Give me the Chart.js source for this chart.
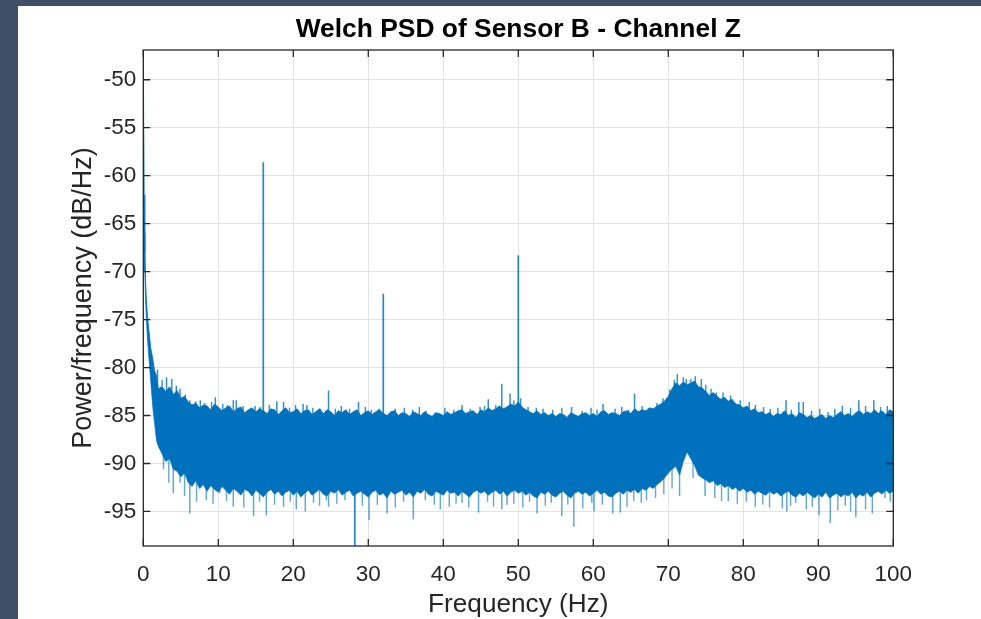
<!DOCTYPE html>
<html>
<head>
<meta charset="utf-8">
<script src="https://cdn.jsdelivr.net/npm/chart.js@4/dist/chart.umd.min.js"></script>
<style>
  html, body { margin: 0; padding: 0; width: 981px; height: 619px; overflow: hidden; background: #3f4f67; }
  #card { position: absolute; left: 18px; top: 6px; width: 963px; height: 613px; background: #ffffff; }
  #c { position: absolute; left: 0; top: 0; }
</style>
</head>
<body>
<div id="card"></div>
<canvas id="c" width="981" height="619"></canvas>
<script>
// ---- Data ----
const titleText = 'Welch PSD of Sensor B - Channel Z';
const xLabel = 'Frequency (Hz)';
const yLabel = 'Power/frequency (dB/Hz)';

const xTicks = [0, 10, 20, 30, 40, 50, 60, 70, 80, 90, 100];
const yTicks = [-95, -90, -85, -80, -75, -70, -65, -60, -55, -50];

// frequency bins (Hz) for the ragged edges of the noise band
const freqs = [0, 0.1, 0.2, 0.3, 0.45, 0.6, 0.8, 1, 1.25, 1.5, 1.75,
  2, 2.5, 3, 3.5, 4, 4.5, 5, 5.5, 6, 6.5, 7, 7.5, 8, 8.5, 9, 9.5,
  10, 10.5, 11, 11.5, 12, 12.5, 13, 13.5, 14, 14.5, 15, 15.5, 16, 16.5, 17, 17.5, 18, 18.5, 19, 19.5,
  20, 20.5, 21, 21.5, 22, 22.5, 23, 23.5, 24, 24.5, 25, 25.5, 26, 26.5, 27, 27.5, 28, 28.5, 29, 29.5,
  30, 30.5, 31, 31.5, 32, 32.5, 33, 33.5, 34, 34.5, 35, 35.5, 36, 36.5, 37, 37.5, 38, 38.5, 39, 39.5,
  40, 40.5, 41, 41.5, 42, 42.5, 43, 43.5, 44, 44.5, 45, 45.5, 46, 46.5, 47, 47.5, 48, 48.5, 49, 49.5,
  50, 50.5, 51, 51.5, 52, 52.5, 53, 53.5, 54, 54.5, 55, 55.5, 56, 56.5, 57, 57.5, 58, 58.5, 59, 59.5,
  60, 60.5, 61, 61.5, 62, 62.5, 63, 63.5, 64, 64.5, 65, 65.5, 66, 66.5, 67, 67.5, 68, 68.5, 69, 69.5,
  70, 70.5, 71, 71.5, 72, 72.5, 73, 73.5, 74, 74.5, 75, 75.5, 76, 76.5, 77, 77.5, 78, 78.5, 79, 79.5,
  80, 80.5, 81, 81.5, 82, 82.5, 83, 83.5, 84, 84.5, 85, 85.5, 86, 86.5, 87, 87.5, 88, 88.5, 89, 89.5,
  90, 90.5, 91, 91.5, 92, 92.5, 93, 93.5, 94, 94.5, 95, 95.5, 96, 96.5, 97, 97.5, 98, 98.5, 99, 99.5, 100];

// top edge of the noise band (dB/Hz)
const bandMax = [-46.9, -62, -68, -71, -73.5, -75, -76.5, -78, -79, -80.3, -80.8,
  -82.2, -82.0, -82.5, -82.0, -82.8, -82.4, -83.2, -83.0, -83.6, -83.9, -83.7, -84.2, -83.9, -84.0, -84.4, -83.8,
  -84.1, -84.5, -84.2, -84.0, -84.6, -84.3, -84.1, -84.7, -84.4, -84.2, -84.6, -84.3, -84.5, -84.8, -84.3, -84.4, -84.9, -84.5, -84.2, -84.7,
  -84.6, -84.3, -84.8, -84.5, -84.4, -84.9, -84.6, -84.3, -84.8, -84.4, -84.6, -85.0, -84.5, -84.7, -84.4, -84.9, -84.6, -84.4, -85.0, -84.7,
  -84.5, -84.9, -84.6, -84.4, -84.8, -85.0, -84.6, -84.5, -85.0, -84.7, -84.8, -85.1, -84.6, -84.8, -85.0, -84.6, -84.9, -85.1, -84.7, -84.8,
  -85.0, -84.6, -84.9, -84.7, -84.5, -84.4, -84.8, -84.6, -84.5, -84.9, -84.4, -84.6, -84.2, -84.5, -84.3, -84.0, -84.3, -84.1, -83.8, -84.0,
  -83.6, -84.1, -84.4, -84.6, -84.8, -84.5, -84.9, -84.7, -85.0, -84.8, -85.1, -84.8, -84.9, -85.2, -84.7, -84.9, -85.1, -84.8, -84.7, -85.0,
  -84.8, -85.1, -84.6, -84.5, -84.9, -84.7, -84.8, -85.0, -84.6, -84.5, -84.8, -84.3, -84.6, -84.4, -84.5, -84.2, -84.3, -84.0, -83.8, -83.5,
  -83.0, -82.2, -81.6, -81.9, -81.5, -81.8, -81.6, -81.4, -82.0, -82.1, -82.5, -82.9, -82.6, -83.0, -83.3, -83.1, -83.5, -83.3, -83.8, -83.9,
  -84.2, -84.0, -84.5, -84.3, -84.7, -84.6, -84.9, -84.7, -85.1, -84.8, -84.9, -84.5, -85.0, -84.8, -85.2, -84.7, -84.9, -85.2, -85.0, -85.3,
  -85.1, -84.9, -85.3, -85.0, -85.2, -84.9, -84.6, -85.0, -84.8, -85.1, -84.7, -84.5, -84.9, -84.6, -84.8, -84.4, -84.8, -84.5, -84.9, -84.4, -84.6];

// bottom edge of the noise band (dB/Hz)
const bandMin = [-50, -66, -70, -73, -75.5, -77.5, -79.5, -81.5, -84, -85.8, -87.5,
  -88.2, -89.0, -89.8, -89.5, -90.6, -90.8, -91.4, -91.0, -92.0, -92.4, -91.8, -92.6, -92.2, -92.9, -92.3, -92.7,
  -93.0, -92.4, -92.8, -93.2, -92.6, -92.9, -93.3, -92.7, -92.9, -93.4, -92.8, -93.1, -93.5, -93.0, -92.7, -93.2, -92.9, -93.4, -93.0, -92.8,
  -93.3, -92.9, -93.5, -93.1, -92.8, -93.3, -93.0, -92.7, -93.2, -93.4, -92.9, -93.1, -92.7, -93.3, -93.0, -92.8, -93.4, -93.1, -92.9, -93.2,
  -93.5, -93.0, -92.8, -93.3, -93.1, -93.6, -92.9, -93.2, -93.0, -92.8, -93.3, -93.0, -93.5, -92.9, -93.1, -92.7, -93.2, -93.4, -92.9, -93.1,
  -93.3, -92.8, -93.1, -93.0, -93.4, -92.9, -93.2, -93.5, -93.0, -92.8, -93.1, -92.9, -93.3, -93.0, -92.8, -93.2, -92.9, -93.4, -93.0, -92.8,
  -93.1, -92.9, -93.3, -93.0, -93.4, -93.6, -93.0, -93.2, -92.9, -93.3, -93.5, -93.1, -92.9, -93.3, -93.6, -93.1, -92.9, -93.2, -93.0, -93.4,
  -93.1, -92.8, -93.2, -93.0, -93.4, -93.5, -93.1, -92.9, -93.2, -92.8, -93.0, -92.7, -93.1, -92.6, -92.8, -92.4, -92.6, -92.2, -91.9, -91.5,
  -91.0, -90.6, -90.3, -91.2, -89.8, -88.8, -89.5, -90.2, -91.2, -91.5, -91.7, -92.0, -91.8, -92.3, -92.1, -92.5, -92.3, -92.7, -92.5, -92.9,
  -92.6, -93.0, -92.8, -93.2, -92.9, -93.1, -93.3, -92.9, -93.2, -93.0, -93.4, -93.1, -92.9, -93.3, -93.5, -93.1, -93.4, -93.0, -93.3, -93.6,
  -93.2, -93.5, -93.0, -93.6, -93.3, -93.1, -93.5, -93.2, -93.4, -93.0, -93.6, -93.2, -93.4, -93.0, -93.5, -93.1, -92.9, -93.2, -92.8, -93.1, -92.9];

// prominent noise spikes above the band: frequency (Hz) and tip (dB/Hz)
const spikeUpFreqs = [3.1, 3.8, 4.4, 4.9, 6.2, 7.6, 9.1, 9.6, 12.0, 12.4, 13.3, 14.9, 17.8, 18.7, 21.3, 21.8, 23.6, 24.7,
  28.7, 31.4, 33.6, 38.9, 42.5, 44.9, 46.0, 47.8, 48.9, 50.3, 51.3, 53.3, 57.1, 61.3, 65.5, 67.6,
  70.2, 71.2, 72.4, 73.6, 74.4, 76.4, 78.3, 79.6, 80.8, 85.7, 87.4, 88.0, 93.2, 95.4, 97.4, 99.2];
const spikeUpTips = [-81.0, -81.2, -81.9, -82.2, -83.4, -83.4, -83.6, -83.1, -83.4, -83.4, -84.0, -84.0, -83.5, -83.6, -83.8, -83.9, -84.3, -82.4,
  -83.6, -84.3, -84.3, -84.7, -83.9, -84.1, -83.3, -81.7, -82.7, -83.2, -84.1, -84.3, -84.1, -83.8, -82.7, -84.7,
  -82.3, -80.7, -81.2, -80.9, -81.2, -82.6, -82.9, -83.4, -83.6, -83.4, -83.6, -83.6, -84.0, -83.4, -83.4, -84.0];

// smaller spikes along the top edge
const minorUpFreqs = [1.9, 2.5, 5.6, 7.0, 8.2, 10.6, 11.2, 15.6, 16.8, 19.5, 20.3, 22.6, 25.6, 26.4, 27.5, 29.6, 30.4,
  34.8, 35.9, 36.8, 37.7, 40.2, 41.4, 43.6, 45.5, 47.0, 49.4, 52.4, 54.6, 55.8, 58.5, 59.7, 60.5, 62.9, 63.8, 64.7,
  66.5, 68.5, 69.3, 70.8, 72.0, 73.0, 75.0, 75.7, 77.3, 81.6, 82.7, 83.6, 84.6, 86.4, 89.1, 90.2, 91.3, 92.2, 94.3, 96.3, 98.3];
const minorUpTips = [-80.2, -81.3, -82.8, -83.5, -83.7, -83.8, -83.9, -84.1, -83.9, -84.2, -83.9, -84.2, -84.3, -84.0, -84.3, -84.1, -84.4,
  -84.2, -84.4, -84.1, -84.5, -84.2, -84.4, -84.3, -84.0, -83.9, -83.4, -84.2, -84.4, -84.2, -84.5, -84.2, -84.4, -84.3, -84.1, -84.4,
  -84.0, -83.7, -83.2, -81.3, -81.0, -81.2, -81.8, -82.2, -82.6, -83.9, -84.1, -84.3, -84.2, -84.4, -84.5, -84.3, -84.6, -84.3, -84.2, -84.0, -84.1];

// prominent noise spikes below the band
const spikeDownFreqs = [2.7, 4.0, 4.9, 6.2, 8.4, 10.2, 12.0, 14.7, 16.4, 18.7, 20.4, 21.6, 22.7, 24.4, 24.7, 26.9,
  30.1, 32.5, 36.0, 37.6, 40.8, 42.5, 44.7, 47.8, 48.5, 52.5, 55.8, 57.4, 59.8, 60.1, 62.6, 63.6, 66.4, 67.1,
  71.5, 74.9, 78.0, 81.6, 85.2, 85.8, 87.0, 90.1, 91.6, 95.0, 98.9];
const spikeDownTips = [-90.6, -93.1, -92.0, -95.2, -93.8, -93.1, -94.5, -95.5, -95.4, -94.5, -94.8, -95.0, -94.1, -93.8, -94.5, -93.8,
  -95.9, -95.2, -95.8, -93.8, -94.5, -94.1, -95.1, -94.8, -94.3, -95.2, -95.5, -96.6, -94.1, -95.0, -95.2, -95.1, -94.1, -93.8,
  -93.4, -93.4, -93.9, -94.5, -94.7, -95.0, -94.1, -95.4, -96.2, -95.6, -93.6];

// smaller spikes along the bottom edge
const minorDownFreqs = [3.4, 5.5, 7.1, 9.3, 11.1, 13.4, 15.5, 17.5, 19.6, 23.5, 25.8, 29.2, 31.2, 33.6, 34.7, 38.8, 39.6,
  41.7, 43.4, 45.9, 46.7, 49.4, 50.6, 51.5, 53.6, 54.4, 56.6, 58.6, 61.2, 64.5, 65.4, 68.3, 69.4, 70.5, 73.3,
  76.2, 77.1, 79.2, 80.4, 82.6, 83.5, 86.3, 88.4, 89.2, 92.6, 93.6, 94.3, 96.3, 97.2, 99.6];
const minorDownTips = [-92.0, -93.4, -94.0, -94.2, -93.9, -94.6, -94.0, -94.3, -94.0, -94.4, -94.2, -94.4, -94.3, -94.6, -94.0, -94.3, -94.8,
  -94.2, -94.6, -94.0, -94.5, -94.2, -94.6, -94.0, -94.4, -94.1, -94.3, -94.7, -94.3, -94.5, -93.9, -93.6, -93.2, -92.6, -91.5,
  -93.6, -93.9, -94.2, -94.0, -94.3, -94.6, -94.4, -94.8, -94.5, -94.9, -94.4, -95.0, -94.8, -95.2, -94.0];

// narrow tones (and the deep dip near 28 Hz)
const toneFreqs = [16, 32, 50, 28.2];
const toneBase  = [-85, -85, -85, -92];
const toneTip   = [-58.6, -72.3, -68.3, -99];

// ---- Build chart ----
const blue = 'rgb(0,114,189)';
const pts = (xs, ys) => xs.map((f, i) => ({ x: f, y: ys[i] }));
const WHISKER_BASE = -88; // anchor inside the solid band
const segs = (xs, from, to) => {
  const out = [];
  xs.forEach((f, i) => {
    const a = Array.isArray(from) ? from[i] : from;
    out.push({ x: f, y: a }, { x: f, y: to[i] }, { x: f, y: null });
  });
  return out;
};
const whisker = (data, color, width, order) => ({
  data, borderColor: color, borderWidth: width, pointRadius: 0, spanGaps: false, fill: false, order
});

const FONT = '"Liberation Sans", Arial, Helvetica, sans-serif';

const boxPlugin = {
  id: 'boxPlugin',
  afterDraw(chart) {
    const ctx = chart.ctx;
    const a = chart.chartArea;
    const xs = chart.scales.x, ys = chart.scales.y;
    ctx.save();
    ctx.strokeStyle = '#262626';
    ctx.lineWidth = 1.3;
    ctx.strokeRect(a.left, a.top, a.right - a.left, a.bottom - a.top);
    const tl = 7;
    ctx.beginPath();
    xTicks.forEach(v => {
      const px = xs.getPixelForValue(v);
      ctx.moveTo(px, a.bottom); ctx.lineTo(px, a.bottom - tl);
      ctx.moveTo(px, a.top); ctx.lineTo(px, a.top + tl);
    });
    yTicks.forEach(v => {
      const py = ys.getPixelForValue(v);
      ctx.moveTo(a.left, py); ctx.lineTo(a.left + tl, py);
      ctx.moveTo(a.right, py); ctx.lineTo(a.right - tl, py);
    });
    ctx.stroke();
    ctx.fillStyle = '#000000';
    ctx.font = 'bold 26.4px ' + FONT;
    ctx.textAlign = 'center';
    ctx.textBaseline = 'middle';
    const cx = (a.left + a.right) / 2;
    ctx.fillText(titleText, cx, 30);
    ctx.fillStyle = '#262626';
    ctx.font = '26.2px ' + FONT;
    ctx.fillText(xLabel, cx, 605);
    ctx.font = '27px ' + FONT;
    ctx.translate(84, (a.top + a.bottom) / 2);
    ctx.rotate(-Math.PI / 2);
    ctx.fillText(yLabel, 0, 0);
    ctx.restore();
  }
};

new Chart(document.getElementById('c'), {
  type: 'line',
  data: {
    datasets: [
      whisker(segs(toneFreqs, toneBase, toneTip), 'rgba(0,114,189,0.85)', 1.7, 0),
      whisker(segs(spikeUpFreqs, WHISKER_BASE, spikeUpTips), 'rgba(0,114,189,0.8)', 1.5, 1),
      whisker(segs(minorUpFreqs, WHISKER_BASE, minorUpTips), 'rgba(0,114,189,0.8)', 1.4, 2),
      whisker(segs(spikeDownFreqs, WHISKER_BASE, spikeDownTips), 'rgba(0,114,189,0.62)', 1.5, 3),
      whisker(segs(minorDownFreqs, WHISKER_BASE, minorDownTips), 'rgba(0,114,189,0.62)', 1.4, 4),
      { data: pts(freqs, bandMax), borderColor: 'rgba(0,114,189,0.8)', borderWidth: 1, pointRadius: 0, fill: false, order: 5 },
      { data: pts(freqs, bandMin), borderColor: 'rgba(0,114,189,0.7)', borderWidth: 1, pointRadius: 0, fill: '-1', backgroundColor: blue, order: 6 }
    ]
  },
  options: {
    responsive: false,
    animation: false,
    events: [],
    layout: { padding: { left: 0, right: 87.7, top: 50, bottom: 0 } },
    plugins: { legend: { display: false }, tooltip: { enabled: false }, title: { display: false } },
    elements: { line: { tension: 0 } },
    scales: {
      x: {
        type: 'linear', min: 0, max: 100,
        afterBuildTicks: s => { s.ticks = xTicks.map(v => ({ value: v })); },
        afterFit: s => { s.height = 73; },
        grid: { color: '#e3e3e3', lineWidth: 1, drawTicks: false },
        border: { display: false },
        ticks: { color: '#262626', font: { family: FONT, size: 22.5 }, padding: 15, maxRotation: 0, autoSkip: false }
      },
      y: {
        type: 'linear', min: -98.6, max: -46.9,
        afterBuildTicks: s => { s.ticks = yTicks.map(v => ({ value: v })); },
        afterFit: s => { s.width = 143.3; },
        grid: { color: '#e3e3e3', lineWidth: 1, drawTicks: false },
        border: { display: false },
        ticks: { color: '#262626', font: { family: FONT, size: 22.5 }, padding: 7, autoSkip: false }
      }
    }
  },
  plugins: [boxPlugin]
});
</script>
</body>
</html>
